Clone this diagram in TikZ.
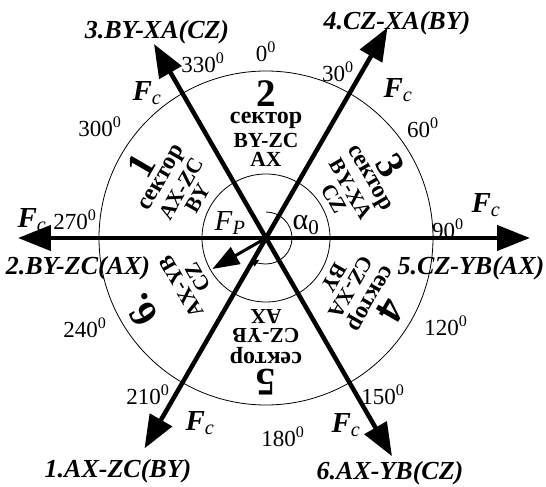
\documentclass[tikz,border=0pt]{standalone}
\usepackage{fontspec}
\setmainfont{Liberation Serif}
\usetikzlibrary{arrows.meta}
\newcommand{\Fc}{\textbf{\textit{F}}\textsubscript{\textit{c}}}
\newcommand{\grad}[1]{#1\textsuperscript{0}}
\tikzset{
  axis/.style={line width=4.5pt,{Triangle[length=33pt,width=25pt]}-{Triangle[length=33pt,width=25pt]}},
  ring/.style={line width=0.8pt},
  txt/.style={inner sep=0pt},
  phase/.style={txt,font=\fontsize{26}{26}\selectfont\bfseries\itshape},
  deg/.style={txt,font=\fontsize{23}{23}\selectfont},
  force/.style={txt,font=\fontsize{29}{29}\selectfont},
  secnum/.style={txt,font=\fontsize{39}{39}\selectfont\bfseries},
  secword/.style={txt,font=\fontsize{24}{24}\selectfont\bfseries},
  secph/.style={txt,font=\fontsize{21.5}{21.5}\selectfont\bfseries},
}
\begin{document}
\begin{tikzpicture}[x=1pt,y=1pt]
  \useasboundingbox (-266,-249) rectangle (280,238);
  \coordinate (O) at (0,0);
  \coordinate (e1) at (240:243);
  \coordinate (e2) at (180:248);
  \coordinate (e3) at (120:224);
  \coordinate (e4) at (60:243);
  \coordinate (e5) at (0:264);
  \coordinate (e6) at (-60:252);
  \coordinate (fp) at (210:62);
  \draw[ring] (O) circle (167pt);
  \draw[ring] (O) circle (64pt);
  \draw[ring,-{Triangle[length=7pt,width=8pt]}] (90:26) arc[start angle=90,end angle=-125,radius=26pt];
  \draw[axis] (e2) -- (e5);
  \draw[axis] (e3) -- (e6);
  \draw[axis] (e1) -- (e4);
  \draw[line width=3pt,-{Triangle[length=27pt,width=19pt]}] (O) -- (fp);
  \node[phase] (l1) at (-148,-233) {1.AX-ZC(BY)};
  \node[phase] (l2) at (-188,-30) {2.BY-ZC(AX)};
  \node[phase] (l3) at (-109,206) {3.BY-XA(CZ)};
  \node[phase] (l4) at (131,215) {4.CZ-XA(BY)};
  \node[phase] (l5) at (205,-30) {5.CZ-YB(AX)};
  \node[phase] (l6) at (124,-235) {6.AX-YB(CZ)};
  \node[force] (f1) at (-66,-185) {\Fc};
  \node[force] (f2) at (-234,18) {\Fc};
  \node[force] (f3) at (-119,145) {\Fc};
  \node[force] (f4) at (132,148) {\Fc};
  \node[force] (f5) at (220,33) {\Fc};
  \node[force] (f6) at (80,-187) {\Fc};
  \node[force] (fpl) at (-36,15) {\textit{F}\textsubscript{\textit{P}}};
  \node[txt,font=\fontsize{30}{30}\selectfont] (alpha) at (40,13) {α\textsubscript{0}};
  \node[deg] (d0) at (0,186) {\grad{0}};
  \node[deg] (d30) at (72,166) {\grad{30}};
  \node[deg] (d60) at (157,110) {\grad{60}};
  \node[deg] (d90) at (182,9) {\grad{90}};
  \node[deg] (d120) at (180,-88) {\grad{120}};
  \node[deg] (d150) at (117,-157) {\grad{150}};
  \node[deg] (d180) at (17,-199) {\grad{180}};
  \node[deg] (d210) at (-118,-157) {\grad{210}};
  \node[deg] (d240) at (-181,-90) {\grad{240}};
  \node[deg] (d270) at (-191,18) {\grad{270}};
  \node[deg] (d300) at (-166,111) {\grad{300}};
  \node[deg] (d330) at (-63,175) {\grad{330}};
  \foreach \i/\a/\n/\w/\p/\q in {1/300/1/сектор/AX-ZC/BY, 2/0/2/сектор/BY-ZC/AX,
      3/60/3/сектор/BY-XA/CZ, 4/120/4/сектор/CZ-XA/BY, 5/180/5/сектор/CZ-YB/AX,
      6/240/6./{}/AX-YB/CZ} {
    \begin{scope}[rotate=-\a,transform shape]
      \node[secnum] (n\i) at (0,144) {\n};
      \node[secword] (w\i) at (0,118) {\w};
      \node[secph] (p\i) at (0,98) {\p};
      \node[secph] (q\i) at (0,79) {\q};
    \end{scope}
  }
\end{tikzpicture}
\end{document}
